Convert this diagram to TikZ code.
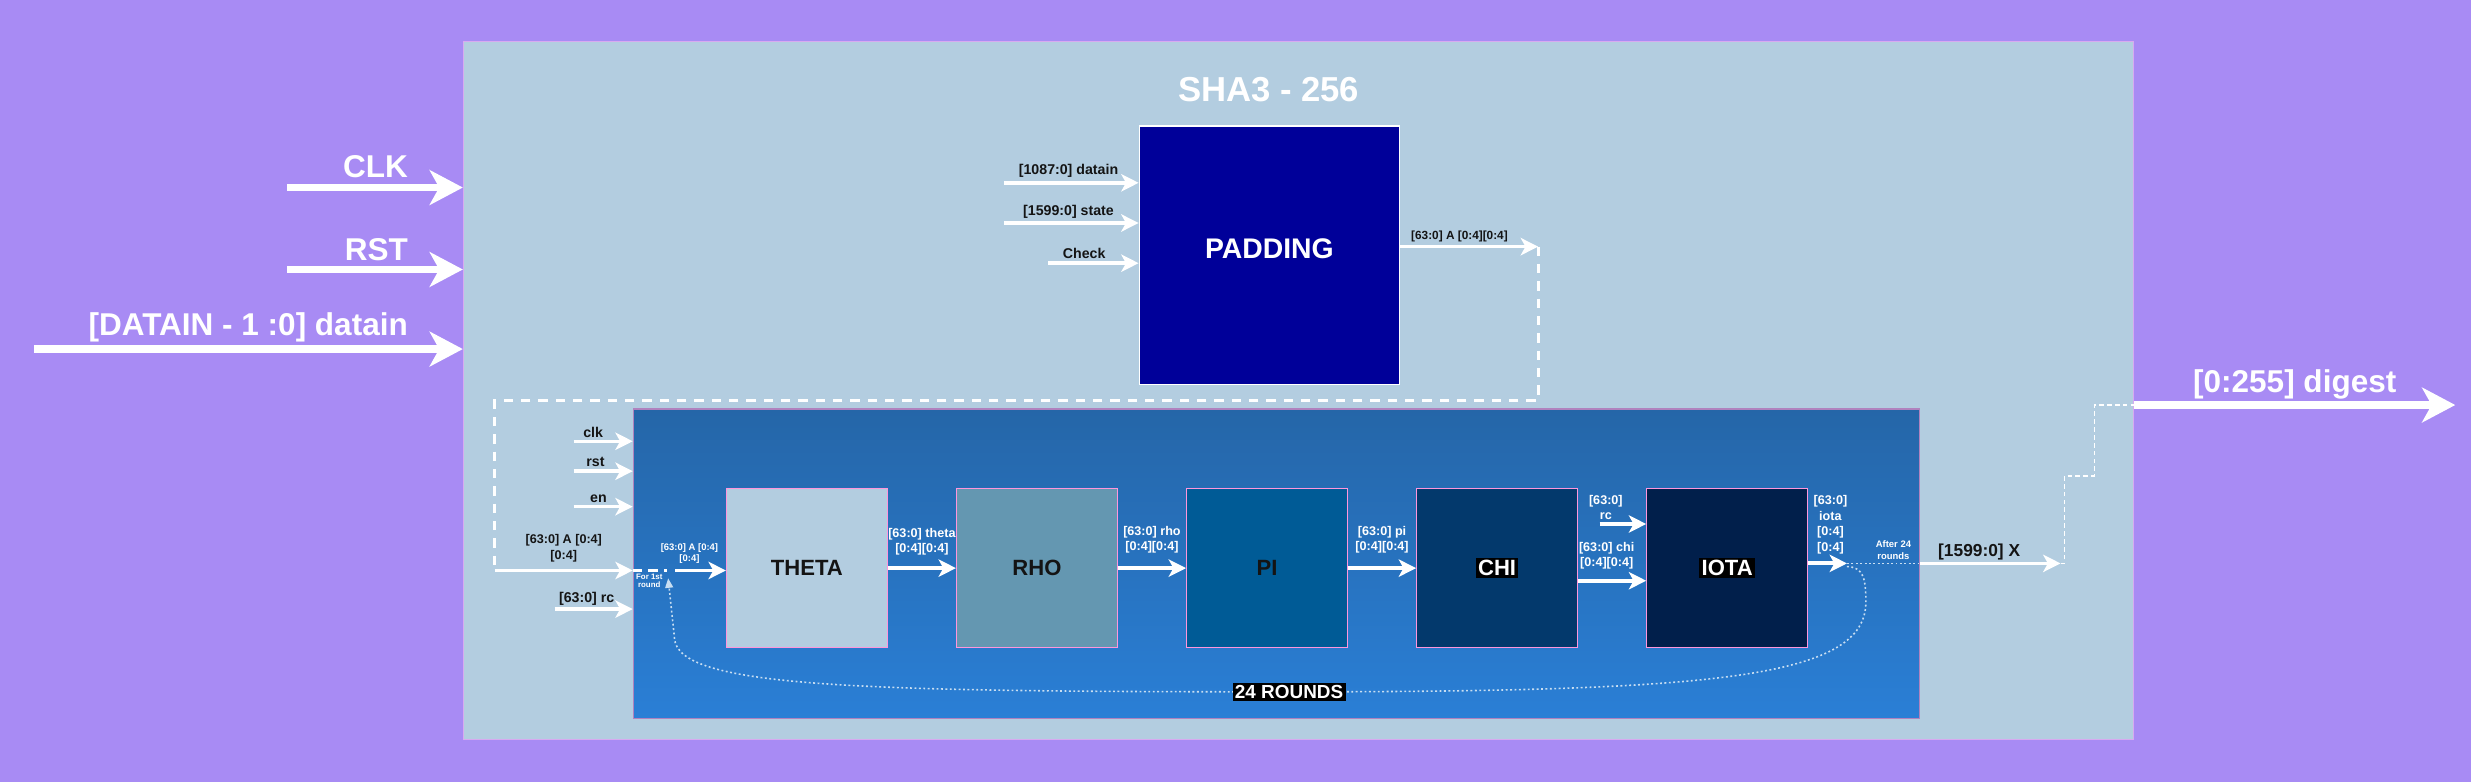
\documentclass[tikz,border=0pt]{standalone}
\usepackage{fontspec}
\setmainfont{Liberation Sans}
\usetikzlibrary{arrows.meta}

\definecolor{bgpurple}{RGB}{168,139,244}
\definecolor{corecol}{RGB}{179,205,224}
\definecolor{coreedge}{RGB}{215,170,240}
\definecolor{padcol}{RGB}{0,0,153}
\definecolor{roundtop}{RGB}{37,102,168}
\definecolor{roundbot}{RGB}{42,127,214}
\definecolor{roundedge}{RGB}{176,130,190}
\definecolor{stageedge}{RGB}{255,150,220}
\definecolor{thetacol}{RGB}{179,205,224}
\definecolor{rhocol}{RGB}{100,151,177}
\definecolor{picol}{RGB}{0,91,150}
\definecolor{chicol}{RGB}{3,57,108}
\definecolor{iotacol}{RGB}{1,31,75}
\definecolor{labelcol}{RGB}{20,20,20}
\definecolor{dotcol}{RGB}{200,222,242}

\newcommand{\onblack}[1]{{\setlength{\fboxsep}{1.5pt}\colorbox{black}{\textcolor{white}{#1}}}}

\tikzset{
  bigarrow/.style={draw=white, line width=5pt, -{Stealth[length=21pt,width=22pt,inset=6pt]}},
  sigarrow/.style={draw=white, line width=2.2pt, -{Stealth[length=11pt,width=11pt,inset=3pt]}},
  busarrow/.style={draw=white, line width=2.5pt, -{Stealth[length=11pt,width=11pt,inset=3pt]}},
  feedline/.style={draw=white, line width=2pt, dash pattern=on 6pt off 5pt},
  firstline/.style={draw=white, line width=1.8pt, dash pattern=on 6pt off 4pt},
  thindash/.style={draw=white, line width=0.8pt, dash pattern=on 3pt off 2pt},
  dotline/.style={draw=dotcol, line width=1pt, dash pattern=on 1.2pt off 1.6pt},
  loopline/.style={dotline, -{Triangle[length=6pt,width=5pt]}},
  padbox/.style={fill=padcol, draw=white, line width=1pt, minimum width=165pt, minimum height=164pt, inner sep=0pt, text depth=8pt, text=white, font=\bfseries\fontsize{18}{18}\selectfont},
  roundbox/.style={draw=roundedge, line width=1pt, top color=roundtop, bottom color=roundbot, minimum width=816pt, minimum height=196.5pt, inner sep=0pt},
  stage/.style={draw=stageedge, line width=0.8pt, minimum width=102pt, minimum height=101pt, inner sep=0pt, text=labelcol, font=\bfseries\fontsize{14}{14}\selectfont},
  biglabel/.style={text=white, font=\bfseries\fontsize{20}{20}\selectfont, inner sep=0pt},
  siglabel/.style={text=labelcol, font=\bfseries\fontsize{9}{10}\selectfont, inner sep=0pt, align=center},
  buslabel/.style={text=white, font=\bfseries\fontsize{8}{9.5}\selectfont, inner sep=0pt, align=center},
}

\begin{document}
\begin{tikzpicture}[x=1pt,y=-1pt]
\useasboundingbox (0,0) rectangle (1568,496);
\fill[bgpurple] (0,0) rectangle (1568,496);

% sha3 core
\node[fill=corecol, draw=coreedge, line width=0.6pt, minimum width=1060pt, minimum height=443pt, inner sep=0pt] (core) at (824,247.5) {};
\node[biglabel, font=\bfseries\fontsize{22}{22}\selectfont] (title) at (805,57) {SHA3 - 256};

% top level ports
\coordinate (clkin) at (182,119);
\coordinate (rstin) at (182,171);
\coordinate (datin) at (21.5,221.5);
\draw[bigarrow] (clkin) -- (clkin -| core.west);
\draw[bigarrow] (rstin) -- (rstin -| core.west);
\draw[bigarrow] (datin) -- (datin -| core.west);
\node[biglabel, anchor=base east] (clklbl) at (259,112.5) {CLK};
\node[biglabel, anchor=base east] (rstlbl) at (259,165) {RST};
\node[biglabel, anchor=base east] (datlbl) at (259,213) {[DATAIN - 1 :0] datain};

% padding
\node[padbox] (padding) at (805.5,162) {PADDING};
\coordinate (pdatin) at (637,116);
\coordinate (pstatin) at (637,141.5);
\coordinate (pchkin) at (665,167);
\draw[sigarrow] (pdatin) -- (pdatin -| padding.west) node[siglabel, pos=0.48, above=2pt] (pdatlbl) {[1087:0] datain};
\draw[sigarrow] (pstatin) -- (pstatin -| padding.west) node[siglabel, pos=0.48, above=2pt] (pstatlbl) {[1599:0] state};
\draw[sigarrow] (pchkin) -- (pchkin -| padding.west) node[siglabel, pos=0.4, above=2pt] (pchklbl) {Check};
\coordinate (padout) at (976,156.5);
\draw[sigarrow] (padout -| padding.east) -- (padout) node[siglabel, font=\bfseries\fontsize{7.5}{8}\selectfont, pos=0.43, above=2pt] (padoutlbl) {[63:0] A [0:4][0:4]};
\coordinate (feedr) at (976,254);
\coordinate (feedl) at (314,254);
\coordinate (ain) at (314,362);
\draw[feedline] (padout) -- (feedr) -- (feedl) -- (ain);

% 24 rounds
\node[roundbox] (rounds) at (810,357.75) {};
\coordinate (clk2) at (364,280);
\coordinate (rst2) at (364,299);
\coordinate (en2) at (364,321.5);
\coordinate (rc2) at (352,386.5);
\draw[sigarrow] (clk2) -- (clk2 -| rounds.west) node[siglabel, pos=0.33, above=1.5pt] (clk2lbl) {clk};
\draw[sigarrow] (rst2) -- (rst2 -| rounds.west) node[siglabel, pos=0.37, above=1.5pt] (rst2lbl) {rst};
\draw[sigarrow] (en2) -- (en2 -| rounds.west) node[siglabel, pos=0.42, above=1.5pt] (en2lbl) {en};
\draw[sigarrow] (rc2) -- (rc2 -| rounds.west) node[siglabel, pos=0.41, above=1.5pt] (rc2lbl) {[63:0] rc};
\draw[sigarrow] (ain) -- (ain -| rounds.west) node[siglabel, font=\bfseries\fontsize{8}{10.5}\selectfont, midway, above=4pt] (ainlbl) {[63:0] A [0:4]\\\relax[0:4]};

\node[stage, fill=thetacol] (theta) at (512,360.5) {THETA};
\node[stage, fill=rhocol] (rho) at (658,360.5) {RHO};
\node[stage, fill=picol] (pi) at (804,360.5) {PI};
\node[stage, fill=chicol] (chi) at (950,360.5) {\onblack{CHI}};
\node[stage, fill=iotacol] (iota) at (1096,360.5) {\onblack{IOTA}};

\coordinate (firstdash) at (423,362);
\coordinate (firstin) at (428.5,362);
\draw[firstline] (ain -| rounds.west) -- (firstdash);
\node[buslabel, font=\bfseries\fontsize{5}{5.5}\selectfont] (firstlbl) at (412,368.5) {For 1st\\round};
\draw[busarrow] (firstin) -- (firstin -| theta.west) node[buslabel, font=\bfseries\fontsize{6}{7.5}\selectfont, pos=0.28, above=3pt] (firstAlbl) {[63:0] A [0:4]\\\relax[0:4]};

\draw[busarrow] (theta.east) -- (rho.west) node[buslabel, midway, above=7pt] (thetalbl) {[63:0] theta\\\relax[0:4][0:4]};
\draw[busarrow] (rho.east) -- (pi.west) node[buslabel, midway, above=8pt] (rholbl) {[63:0] rho\\\relax[0:4][0:4]};
\draw[busarrow] (pi.east) -- (chi.west) node[buslabel, midway, above=8pt] (pilbl) {[63:0] pi\\\relax[0:4][0:4]};
\draw[busarrow] ([yshift=-8pt]chi.east) -- ([yshift=-8pt]iota.west) node[buslabel, pos=0.42, above=6pt] (chilbl) {[63:0] chi\\\relax[0:4][0:4]};
\coordinate (rcin) at (1015,332.5);
\draw[busarrow] (rcin) -- (rcin -| iota.west);
\node[buslabel, font=\bfseries\fontsize{8}{10}\selectfont] (rclbl) at (1019,322) {[63:0]\\rc};

\coordinate (iotaout) at (1172,357.5);
\draw[busarrow] (iotaout -| iota.east) -- (iotaout);
\node[buslabel, font=\bfseries\fontsize{8}{10}\selectfont] (iotalbl) at (1161.5,333) {[63:0]\\iota\\\relax[0:4]\\\relax[0:4]};
\node[buslabel, font=\bfseries\fontsize{6}{8}\selectfont] (afterlbl) at (1201.5,349) {After 24\\rounds};

% loop back
\coordinate (loopa) at (1184,382);
\coordinate (loopmid) at (818,439);
\coordinate (loopb) at (428,405);
\coordinate (looptip) at (424,367);
\draw[loopline] ([yshift=-2pt]iotaout) .. controls (1182,360) and (1184,366) .. (loopa) .. controls (1184,430) and (1090,439) .. (loopmid) .. controls (540,439) and (430,436) .. (loopb) -- (looptip);
\node[fill=black, text=white, inner sep=1.5pt, font=\bfseries\fontsize{12}{12}\selectfont] (roundslbl) at (loopmid) {24 ROUNDS};

% output
\coordinate (xout) at (1307.5,357.5);
\draw[dotline] (iotaout) -- (iotaout -| rounds.east);
\draw[busarrow, line width=2pt] (iotaout -| rounds.east) -- (xout) node[siglabel, font=\bfseries\fontsize{11}{11}\selectfont, pos=0.42, above=1pt] (xlbl) {[1599:0] X};
\coordinate (stepa) at (1310,302);
\coordinate (stepb) at (1329,302);
\coordinate (stepc) at (1329,257);
\coordinate (digout) at (1558,257);
\draw[thindash] (xout) -- (xout -| stepa) -- (stepa) -- (stepb) -- (stepc) -- (stepc -| core.east);
\draw[bigarrow] (stepc -| core.east) -- (digout) node[biglabel, midway, above=1pt] (diglbl) {[0:255] digest};
\end{tikzpicture}
\end{document}
